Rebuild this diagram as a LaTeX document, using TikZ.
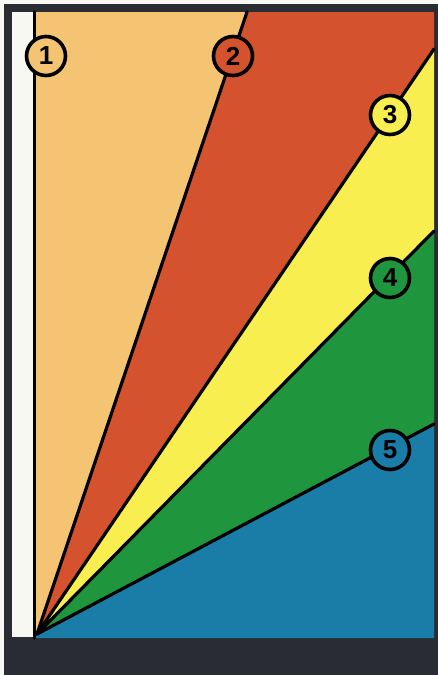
\documentclass[tikz,border=0pt]{standalone}
\usepackage{fontspec}
\setsansfont{Liberation Sans}
\usetikzlibrary{calc,positioning}
\definecolor{frame}{HTML}{2A2C33}
\definecolor{paper}{HTML}{F8F8F2}
\definecolor{sand}{HTML}{F4C472}
\definecolor{brick}{HTML}{D4532E}
\definecolor{lemon}{HTML}{F8EE50}
\definecolor{grass}{HTML}{1F963D}
\definecolor{sea}{HTML}{1A7DA8}
\tikzset{
    band mark/.style={
        circle,draw=black,line width=3.6pt,
        minimum size=39pt,inner sep=0pt,
        font=\sffamily\bfseries\fontsize{26}{26}\selectfont
    },
    ray/.style={black,line width=3.2pt,line cap=round}
}

\begin{document}
\begin{tikzpicture}[x=1pt,y=-1pt]
\useasboundingbox (0,0) rectangle (438,675);
\fill[paper] (0,0) rectangle (438,675);
\fill[frame] (4,4) rectangle (438,675);
\fill[paper] (12,12) rectangle (34,637);
\coordinate (o) at (37,634);
\coordinate (tl) at (34.5,12);
\coordinate (t2) at (247,12);
\coordinate (tr) at (434,12);
\coordinate (r3) at (434,49);
\coordinate (r4) at (434,231);
\coordinate (r5) at (434,424);
\coordinate (br) at (434,638);
\coordinate (bl) at (34.5,638);
\fill[sand] (bl) -- (tl) -- (t2) -- (o) -- cycle;
\fill[brick] (o) -- (t2) -- (tr) -- (r3) -- cycle;
\fill[lemon] (o) -- (r3) -- (r4) -- cycle;
\fill[grass] (o) -- (r4) -- (r5) -- cycle;
\fill[sea] (bl) -- (o) -- (r5) -- (br) -- cycle;
\draw[ray] (bl) -- (tl);
\foreach \e in {t2,r3,r4,r5}
    \draw[ray] (o) -- (\e);
\foreach \i/\c/\x/\y in {1/sand/46/56,2/brick/233/56,3/lemon/390/115,4/grass/390/278,5/sea/390/450}
    \node[band mark,fill=\c] (mark_\i) at (\x,\y) {\i};
\end{tikzpicture}
\end{document}
